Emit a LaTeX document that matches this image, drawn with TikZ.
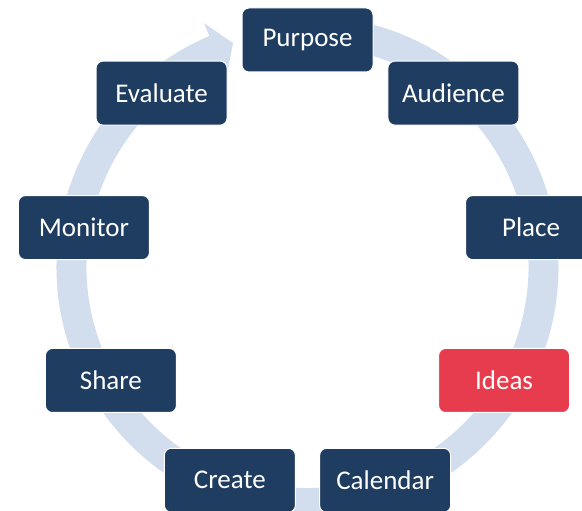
\documentclass[tikz,border=0pt]{standalone}
\usepackage{fontspec}
\setmainfont{Carlito}
\usetikzlibrary{calc}
\definecolor{navy}{RGB}{31,61,96}
\definecolor{ideared}{RGB}{231,59,78}
\definecolor{ringblue}{RGB}{210,221,238}
\begin{document}
\begin{tikzpicture}[x=1pt,y=1pt,
  stagebox/.style={rectangle, rounded corners=7pt, fill=navy, draw=white, line width=1pt,
    minimum width=131pt, minimum height=64pt, inner sep=0pt, text=white,
    font=\fontsize{27}{32}\selectfont},
  hotbox/.style={stagebox, fill=ideared}]
\useasboundingbox (0,0) rectangle (582,511);
\clip (0,0) rectangle (582,511);
\fill[white] (0,0) rectangle (582,511);
\coordinate (C) at (307.5,244);
% ring with arrow
\fill[ringblue] ($(C)+(85:251)$) arc[start angle=85, end angle=-247, radius=251]
  -- ($(C)+(-247:265)$) -- ($(C)+(-251.6:236)$) -- ($(C)+(-247:207)$)
  -- ($(C)+(-247:221)$) arc[start angle=-247, end angle=85, radius=221] -- cycle;
% stages
\node[stagebox] (purpose)  at ($(C)+(90:227)$)   {Purpose};
\node[stagebox] (audience) at ($(C)+(50:227)$)   {Audience};
\node[stagebox] (place)    at ($(C)+(10:227)$)   {Place};
\node[hotbox]   (ideas)    at ($(C)+(-30:227)$)  {Ideas};
\node[stagebox] (calendar) at ($(C)+(-70:227)$)  {Calendar};
\node[stagebox] (create)   at ($(C)+(-110:227)$) {Create};
\node[stagebox] (share)    at ($(C)+(-150:227)$) {Share};
\node[stagebox] (monitor)  at ($(C)+(170:227)$)  {Monitor};
\node[stagebox] (evaluate) at ($(C)+(130:227)$)  {Evaluate};
\end{tikzpicture}
\end{document}
